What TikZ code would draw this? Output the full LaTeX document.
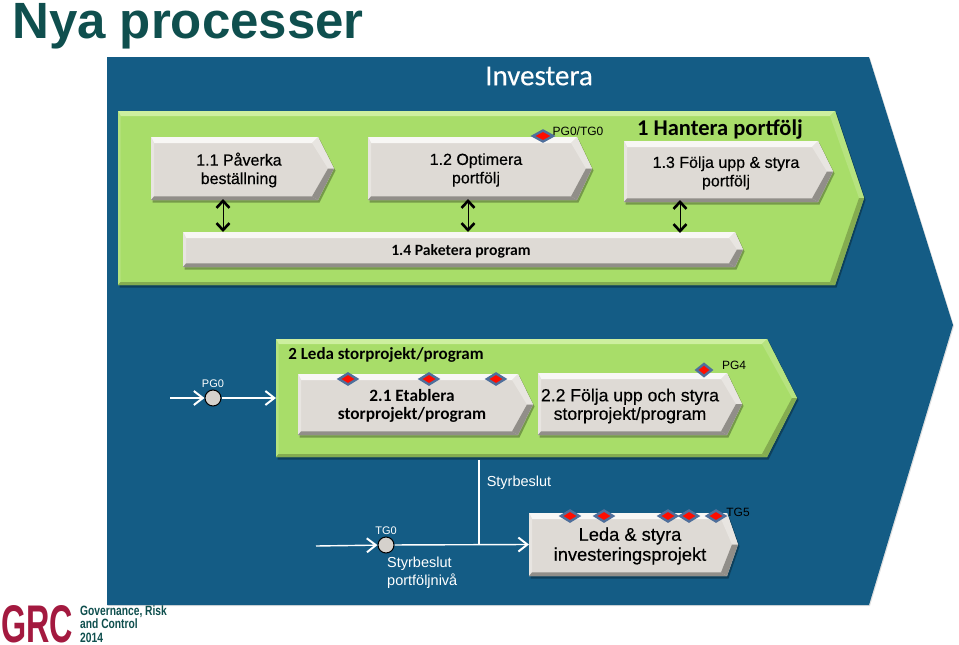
\documentclass[tikz,border=0pt]{standalone}
\usepackage{fontspec}
\setmainfont{Liberation Sans}
\newfontfamily\carlito{Carlito}
\newfontfamily\carlitofat[FakeBold=0.4]{Carlito}
\newfontfamily\liberfat[FakeBold=0.4]{Liberation Sans}
\usetikzlibrary{arrows.meta}
\usetikzlibrary{shapes.geometric}

\definecolor{investblue}{HTML}{145C85}
\definecolor{titleteal}{HTML}{0F4F4E}
\definecolor{logored}{HTML}{A3193F}
\definecolor{gateedge}{HTML}{4F6F9B}
\definecolor{greentop}{HTML}{CDEF9F}
\definecolor{greenside}{HTML}{B6E37F}
\definecolor{greenlow}{HTML}{84AC50}
\definecolor{greenface}{HTML}{A8DD69}
\definecolor{boxtop}{HTML}{F8F7F5}
\definecolor{boxside}{HTML}{E8E5E1}
\definecolor{boxlow}{HTML}{918E89}
\definecolor{boxface}{HTML}{DEDAD5}

\tikzset{
  gate/.style={diamond,aspect=1.6,inner sep=0pt,minimum width=19pt,minimum height=12pt,
    fill=red!90!orange,draw=gateedge,line width=2.4pt},
  milestone/.style={circle,inner sep=0pt,minimum size=16pt,fill=boxface!90!gray,draw=black,line width=1pt},
  flow/.style={white,line width=1.4pt},
  flowarrow/.style={flow,-{Straight Barb[length=9pt,width=14pt,line width=2pt]}},
  updown/.style={black,line width=1pt,{Straight Barb[length=7pt,width=13pt,line width=2.6pt]}-{Straight Barb[length=7pt,width=13pt,line width=2.6pt]}},
  tiny label/.style={font=\fontsize{11}{13}\selectfont,inner sep=0pt},
  boxtext/.style={align=center,inner sep=0pt,text=black,font=\liberfat\fontsize{16}{18.5}\selectfont}
}

% #1 colours, #2 name, #3 left, #4 top, #5 shoulder, #6 tip, #7 bottom, #8 bevel
\newcommand{\bevel}[8]{
  \pgfmathsetmacro{\midy}{(#4+#7)/2}
  \pgfmathsetmacro{\lowd}{#8*0.6}
  \fill[black,opacity=0.3] (#3+1.5,#4+2) -- (#5+1.5,#4+2) -- (#6+1.5,\midy+2) -- (#5+1.5,#7+2.5) -- (#3+1.5,#7+2.5) -- cycle;
  \fill[#1face] (#3,#4) -- (#5,#4) -- (#6,\midy) -- (#5,#7) -- (#3,#7) -- cycle;
  \fill[#1top] (#3,#4) -- (#5,#4) -- (#5-#8,#4+#8) -- (#3+#8*0.5,#4+#8) -- cycle;
  \fill[#1side] (#3,#4) -- (#3+#8*0.5,#4+#8) -- (#3+#8*0.5,#7-\lowd) -- (#3,#7) -- cycle;
  \fill[#1side] (#5,#4) -- (#6,\midy) -- (#6-#8,\midy) -- (#5-#8,#4+#8) -- cycle;
  \fill[#1low] (#3,#7) -- (#5,#7) -- (#5-#8,#7-\lowd) -- (#3+#8*0.5,#7-\lowd) -- cycle;
  \fill[#1low] (#6,\midy) -- (#5,#7) -- (#5-#8,#7-\lowd) -- (#6-#8,\midy) -- cycle;
  \coordinate (#2) at (#3,\midy);
}

\begin{document}
\begin{tikzpicture}[x=1pt,y=-1pt]
\useasboundingbox (0,0) rectangle (959,645);

% outer shape
\fill[black!30,opacity=0.4] (108,58) -- (870,58) -- (954,326) -- (870,606) -- (108,606) -- cycle;
\fill[investblue] (107,57) -- (869,57) -- (953,325) -- (869,605) -- (107,605) -- cycle;

\node[text=titleteal,font=\fontsize{51}{51}\selectfont\bfseries,inner sep=0pt] (title) at (188,26) {Nya processer};
\node[text=white,font=\carlitofat\fontsize{29}{29}\selectfont,inner sep=0pt] (investera) at (539,76) {Investera};

% first group
\bevel{green}{hantera}{118}{111}{835}{864}{285}{5}
\bevel{box}{box11}{151}{137}{318}{334}{200}{6}
\bevel{box}{box12}{368}{137}{577}{592}{200}{6}
\bevel{box}{box13}{624}{141}{818}{833}{202}{6}
\bevel{box}{box14}{183}{232}{735}{743}{267}{6}

\node[boxtext] (t11) at (239,170) {1.1 Påverka\\beställning};
\node[boxtext] (t12) at (476,170) {1.2 Optimera\\portfölj};
\node[boxtext] (t13) at (726,173) {1.3 Följa upp \& styra\\portfölj};
\node[boxtext,font=\carlito\bfseries\fontsize{15.7}{18}\selectfont] (t14) at (461,251) {1.4 Paketera program};
\node[font=\carlito\bfseries\fontsize{22.5}{24}\selectfont,inner sep=0pt] (t1) at (720,130) {1 Hantera portfölj};
\node[gate,minimum width=21pt] (gpg) at (543,136) {};
\node[tiny label,font=\fontsize{12}{14}\selectfont] (lpg) at (578,131) {PG0/TG0};

\coordinate (u11) at (223,199);
\coordinate (d11) at (223,232);
\coordinate (u12) at (468,199);
\coordinate (d12) at (468,232);
\coordinate (u13) at (680,200);
\coordinate (d13) at (680,233);
\draw[updown] (u11) -- (d11);
\draw[updown] (u12) -- (d12);
\draw[updown] (u13) -- (d13);

% second group
\bevel{green}{leda}{276}{339}{767}{797}{457}{5}
\bevel{box}{box21}{298}{374}{518}{533}{435}{6}
\bevel{box}{box22}{538}{373}{727}{742}{435}{6}

\node[font=\carlito\bfseries\fontsize{17}{20}\selectfont,inner sep=0pt] (t2) at (386,355) {2 Leda storprojekt/program};
\node[boxtext,font=\carlito\bfseries\fontsize{17.3}{18.5}\selectfont] (t21) at (412,406) {2.1 Etablera\\storprojekt/program};
\node[boxtext,font=\liberfat\fontsize{17.6}{18.5}\selectfont] (t22) at (630,406) {2.2 Följa upp och styra\\storprojekt/program};
\foreach \gx/\gn in {348/a,429/b,496/c}
  \node[gate] (g\gn) at (\gx,379) {};
\node[gate,minimum width=16pt,minimum height=13pt] (gd) at (704,370) {};
\node[tiny label,font=\fontsize{12}{14}\selectfont] (lpgf) at (734,365) {PG4};

\node[milestone] (pg) at (213,398) {};
\node[tiny label,text=white] (lpgn) at (213,384) {PG0};
\coordinate (pgin) at (170,398);
\draw[flowarrow] (pgin) -- (pg);
\draw[flowarrow] (pg) -- (leda);

% third row
\bevel{box}{boxled}{529}{513}{727}{738}{576}{6}
\node[boxtext,font=\liberfat\fontsize{18.3}{20}\selectfont] (tled) at (630,546) {Leda \& styra\\investeringsprojekt};
\foreach \gx/\gn in {570/d,604/e,668/f,689/g,716/h}
  \node[gate] (g\gn) at (\gx,516) {};
\node[tiny label,font=\fontsize{12}{14}\selectfont] (ltg) at (738,512) {TG5};

\node[milestone] (tg) at (386,545) {};
\node[tiny label,text=white] (ltgn) at (386,531) {TG0};
\coordinate (tgin) at (316,546);
\coordinate (beslut) at (479,544);
\coordinate (beslutup) at (479,460);
\draw[flowarrow] (tgin) -- (tg);
\draw[flowarrow] (tg) -- (boxled);
\draw[flow] (beslutup) -- (beslut);
\node[text=white,font=\fontsize{14.5}{17}\selectfont,inner sep=0pt] (lbeslut) at (519,483) {Styrbeslut};
\node[text=white,align=left,font=\fontsize{14.5}{17.5}\selectfont,inner sep=0pt,anchor=north west] (lniva) at (387,557) {Styrbeslut\\portföljnivå};

% logo
\node[text=logored,font=\bfseries\fontsize{53}{53}\selectfont,inner sep=0pt,anchor=west] (grc) at (1,624) {\scalebox{0.61}[1]{GRC}};
\node[text=titleteal,align=left,font=\bfseries\fontsize{13.5}{13.5}\selectfont,inner sep=0pt,anchor=west] (grctext) at (80,624) {\scalebox{0.76}[1]{Governance, Risk}\\\scalebox{0.76}[1]{and Control}\\\scalebox{0.76}[1]{2014}};

\end{tikzpicture}
\end{document}
